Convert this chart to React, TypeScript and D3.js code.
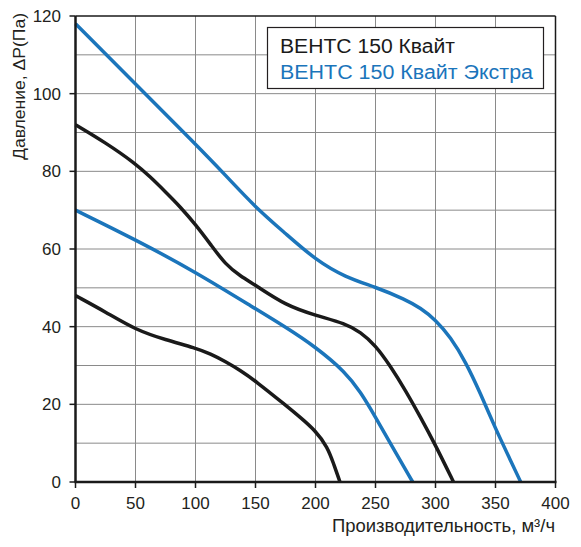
import React from "react";
import * as d3 from "d3";

const xTicks = [0, 50, 100, 150, 200, 250, 300, 350, 400];
const yTicks = [0, 20, 40, 60, 80, 100, 120];
const yGrid = [10, 20, 30, 40, 50, 60, 70, 80, 90, 100, 110];

const extraMax: [number, number][] = [
  [0, 118], [50, 102.5], [100, 87], [125, 79], [150, 70.7], [175, 64], [200, 57.2],
  [225, 52.7], [250, 50.2], [275, 47], [287.5, 44.8], [300, 41.8], [312.5, 37.3],
  [325, 31], [337.5, 22.8], [350, 13.7], [362.5, 5.6], [371, 0],
];
const kvaitMax: [number, number][] = [
  [0, 92], [25, 87.4], [50, 82], [62.5, 78.5], [75, 74.7], [87.5, 70.8], [100, 66.3],
  [112.5, 61.2], [125, 56], [137.5, 53], [150, 50.7], [175, 45.5], [200, 42.9],
  [225, 40.8], [237.5, 38.6], [250, 35.2], [262.5, 29.8], [275, 23.6], [287.5, 16.7],
  [300, 9.5], [315, 0],
];
const extraMin: [number, number][] = [
  [0, 70], [50, 62.4], [100, 54.1], [150, 44.6], [175, 39.9], [200, 34.8], [225, 28.3],
  [237.5, 23.2], [250, 16.7], [262.5, 9.9], [281, 0],
];
const kvaitMin: [number, number][] = [
  [0, 48], [25, 43.8], [50, 39.2], [75, 36.6], [100, 34.5], [112.5, 33], [125, 31],
  [137.5, 28.7], [150, 26], [175, 19.8], [187.5, 16.6], [200, 13.2], [210, 9],
  [215, 4.8], [220.4, 0],
];

const legendLabels = ["ВЕНТС 150 Квайт", "ВЕНТС 150 Квайт Экстра"];
const BLUE = "#1b75bb";
const BLACK = "#1a1a1a";

export default function App() {
  const x = d3.scaleLinear().domain([0, 400]).range([75.5, 555.5]);
  const y = d3.scaleLinear().domain([0, 120]).range([482, 16]);
  const line = d3
    .line<[number, number]>()
    .x((d) => x(d[0]))
    .y((d) => y(d[1]))
    .curve(d3.curveBasis);
  const font = "Arial, 'Liberation Sans', sans-serif";
  const series = [
    { d: extraMax, c: BLUE },
    { d: extraMin, c: BLUE },
    { d: kvaitMax, c: BLACK },
    { d: kvaitMin, c: BLACK },
  ];
  return (
    <svg
      width={581}
      height={547}
      style={{ position: "absolute", left: 0, top: 0, background: "#fff" }}
      fontFamily={font}
    >
      {xTicks.slice(1, -1).map((t) => (
        <line key={"gx" + t} x1={x(t)} x2={x(t)} y1={y(120)} y2={y(0)} stroke="#8a8a8a" strokeWidth={1} />
      ))}
      {yGrid.map((t) => (
        <line key={"gy" + t} x1={x(0)} x2={x(400)} y1={y(t)} y2={y(t)} stroke="#8a8a8a" strokeWidth={1} />
      ))}
      <line x1={x(0)} x2={x(400)} y1={y(120)} y2={y(120)} stroke={BLACK} strokeWidth={1.5} />
      <line x1={x(400)} x2={x(400)} y1={y(120)} y2={y(0)} stroke={BLACK} strokeWidth={1.5} />
      {series.map((s, i) => (
        <path key={i} d={line(s.d) || ""} fill="none" stroke={s.c} strokeWidth={3.5} strokeLinejoin="round" />
      ))}
      <line x1={x(0)} x2={x(0)} y1={y(120)} y2={y(0)} stroke={BLACK} strokeWidth={2.5} />
      <line x1={x(0) - 1} x2={x(400) + 1} y1={y(0)} y2={y(0)} stroke={BLACK} strokeWidth={2.5} />
      {yTicks.map((t) => (
        <g key={"yt" + t}>
          <line x1={x(0) - 6} x2={x(0)} y1={y(t)} y2={y(t)} stroke={BLACK} strokeWidth={1.5} />
          <text x={61} y={y(t)} dy="0.36em" textAnchor="end" fontSize={17} fill="#231f20">
            {t}
          </text>
        </g>
      ))}
      {xTicks.map((t) => (
        <g key={"xt" + t}>
          <line x1={x(t)} x2={x(t)} y1={y(0)} y2={y(0) + 6} stroke={BLACK} strokeWidth={1.5} />
          <text x={x(t)} y={509} textAnchor="middle" fontSize={17} fill="#231f20">
            {t}
          </text>
        </g>
      ))}
      <text
        transform="translate(25,86.5) rotate(-90)"
        textAnchor="middle"
        fontSize={16.5}
        textLength={147}
        lengthAdjust="spacingAndGlyphs"
        fill="#231f20"
      >
        Давление, ΔP(Па)
      </text>
      <text
        x={332}
        y={532}
        fontSize={17.5}
        textLength={223}
        lengthAdjust="spacingAndGlyphs"
        fill="#231f20"
      >
        Производительность, м³/ч
      </text>
      <rect x={267.5} y={27.5} width={276} height={61} fill="#fff" stroke="#231f20" strokeWidth={1.2} />
      <text x={280} y={53} fontSize={20} textLength={175} lengthAdjust="spacingAndGlyphs" fill={BLACK}>
        {legendLabels[0]}
      </text>
      <text x={280} y={79} fontSize={20} textLength={253} lengthAdjust="spacingAndGlyphs" fill={BLUE}>
        {legendLabels[1]}
      </text>
    </svg>
  );
}
